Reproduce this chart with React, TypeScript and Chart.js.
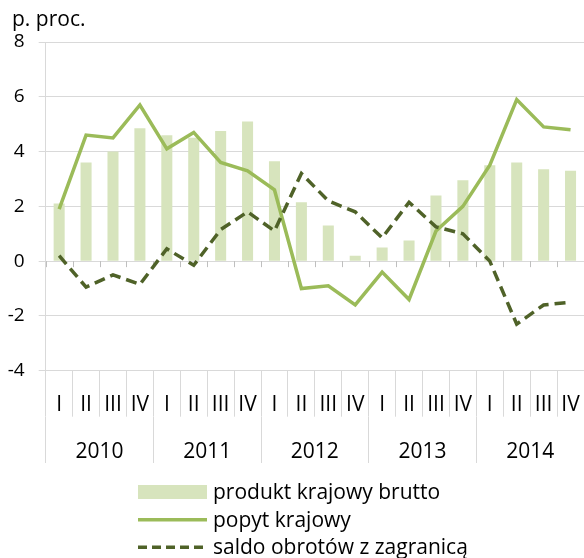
import React, { useEffect, useRef } from 'react';
import { Chart, registerables } from 'chart.js';

Chart.register(...registerables);

// ---- data ----
const quarters = ['I', 'II', 'III', 'IV', 'I', 'II', 'III', 'IV', 'I', 'II', 'III', 'IV', 'I', 'II', 'III', 'IV', 'I', 'II', 'III', 'IV'];
const years = ['2010', '2011', '2012', '2013', '2014'];
const gdp = [2.1, 3.6, 4.0, 4.85, 4.6, 4.5, 4.75, 5.1, 3.65, 2.15, 1.3, 0.2, 0.5, 0.75, 2.4, 2.95, 3.5, 3.6, 3.35, 3.3];
const domesticDemand = [1.9, 4.6, 4.5, 5.7, 4.1, 4.7, 3.6, 3.3, 2.6, -1.0, -0.9, -1.6, -0.4, -1.4, 1.1, 2.0, 3.5, 5.9, 4.9, 4.8];
const netExports = [0.2, -0.95, -0.5, -0.85, 0.45, -0.15, 1.15, 1.8, 1.1, 3.2, 2.2, 1.8, 0.85, 2.15, 1.25, 1.0, 0.0, -2.3, -1.6, -1.5];
const seriesLabels = ['produkt krajowy brutto', 'popyt krajowy', 'saldo obrotów z zagranicą'];
const unitLabel = 'p. proc.';
const yMin = -4;
const yMax = 8;
const yStep = 2;

const FONT = '"Open Sans", sans-serif';
const GRID = '#d9d9d9';
const BAR_COLOR = '#d7e4bd';
const DEMAND_COLOR = '#9bbb59';
const NET_COLOR = '#4f6228';

const decorPlugin = {
  id: 'decor',
  beforeDatasetsDraw(chart: any) {
    const { ctx, scales } = chart;
    const x = scales.x;
    const y = scales.y;
    const y0 = y.getPixelForValue(0);
    const half = (x.getPixelForValue(1) - x.getPixelForValue(0)) / 2;
    ctx.save();
    ctx.strokeStyle = '#bfbfbf';
    ctx.lineWidth = 1;
    ctx.beginPath();
    for (let i = 0; i <= quarters.length; i++) {
      const px = Math.round(x.getPixelForValue(0) - half + 2 * half * i) + 0.5;
      ctx.moveTo(px, y0);
      ctx.lineTo(px, y0 + 6);
    }
    ctx.stroke();
    ctx.restore();
  },
  afterDraw(chart: any) {
    const { ctx } = chart;
    ctx.save();
    ctx.fillStyle = '#000';
    ctx.font = `21px ${FONT}`;
    ctx.textAlign = 'left';
    ctx.textBaseline = 'alphabetic';
    ctx.fillText(unitLabel, 12, 25.5);

    // legend
    const x0 = 138;
    const x1 = 207;
    const textX = 213;
    const rows = [492, 519.7, 547.3];
    chart.data.datasets.forEach((ds: any, i: number) => {
      const cy = rows[i];
      ctx.save();
      if (ds.type === 'bar' || !ds.type) {
        ctx.fillStyle = ds.backgroundColor;
        ctx.fillRect(x0, cy - 7, x1 - x0, 14);
      } else {
        ctx.strokeStyle = ds.borderColor;
        ctx.lineWidth = 3.5;
        ctx.lineCap = 'butt';
        if (ds.borderDash) ctx.setLineDash([9, 5]);
        ctx.beginPath();
        ctx.moveTo(x0, cy);
        ctx.lineTo(x1, cy);
        ctx.stroke();
      }
      ctx.restore();
      ctx.fillStyle = '#000';
      ctx.font = `21px ${FONT}`;
      ctx.textBaseline = 'middle';
      ctx.fillText(ds.label, textX, cy + 1);
    });
    ctx.restore();
  },
};

export default function App() {
  const canvasRef = useRef<HTMLCanvasElement | null>(null);

  useEffect(() => {
    let chart: Chart | null = null;
    let cancelled = false;
    const build = () => {
      if (cancelled || !canvasRef.current) return;
      chart = new Chart(canvasRef.current, {
        type: 'bar',
        data: {
          labels: quarters,
          datasets: [
            {
              type: 'bar',
              label: seriesLabels[0],
              data: gdp,
              backgroundColor: BAR_COLOR,
              borderWidth: 0,
              barPercentage: 0.41,
              categoryPercentage: 1,
              order: 3,
              xAxisID: 'x',
              yAxisID: 'y',
            } as any,
            {
              type: 'line',
              label: seriesLabels[1],
              data: domesticDemand,
              borderColor: DEMAND_COLOR,
              backgroundColor: DEMAND_COLOR,
              borderWidth: 3.5,
              pointRadius: 0,
              tension: 0,
              fill: false,
              order: 2,
              xAxisID: 'x',
              yAxisID: 'y',
            } as any,
            {
              type: 'line',
              label: seriesLabels[2],
              data: netExports,
              borderColor: NET_COLOR,
              backgroundColor: NET_COLOR,
              borderWidth: 3.5,
              borderDash: [11, 6],
              pointRadius: 0,
              tension: 0,
              fill: false,
              order: 1,
              xAxisID: 'x',
              yAxisID: 'y',
            } as any,
          ],
        },
        options: {
          responsive: false,
          animation: false,
          layout: { padding: { top: 42, bottom: 95, left: 0, right: -2 } },
          plugins: {
            legend: { display: false },
            tooltip: { enabled: false },
            title: { display: false },
          },
          scales: {
            x: {
              type: 'category',
              offset: true,
              afterFit: (s: any) => { s.height = 46; },
              grid: { offset: true, drawOnChartArea: false, tickLength: 46, color: GRID },
              border: { display: true, color: GRID },
              ticks: {
                autoSkip: false,
                maxRotation: 0,
                padding: -24,
                color: '#000',
                font: { family: FONT, size: 21 },
              },
            },
            x2: {
              type: 'category',
              position: 'bottom',
              labels: years,
              offset: true,
              afterFit: (s: any) => { s.height = 46.3; },
              grid: { offset: true, drawOnChartArea: false, tickLength: 46.3, color: GRID },
              border: { display: false },
              ticks: {
                autoSkip: false,
                maxRotation: 0,
                padding: -24,
                color: '#000',
                font: { family: FONT, size: 21 },
              },
            },
            y: {
              min: yMin,
              max: yMax,
              afterFit: (s: any) => { s.width = 45.7; },
              grid: { color: GRID, tickLength: 7 },
              border: { color: GRID },
              ticks: {
                stepSize: yStep,
                padding: 14,
                color: '#000',
                font: { family: FONT, size: 19 },
              },
            },
          },
        } as any,
        plugins: [decorPlugin],
      });
    };
    const fontsApi = (document as any).fonts;
    if (fontsApi && fontsApi.load) {
      Promise.all([fontsApi.load(`21px ${FONT}`), fontsApi.load(`19px ${FONT}`)])
        .catch(() => undefined)
        .then(build);
    } else {
      build();
    }
    return () => {
      cancelled = true;
      if (chart) chart.destroy();
    };
  }, []);

  return (
    <div style={{ position: 'absolute', left: 0, top: 0, width: 584, height: 558, overflow: 'hidden', background: '#fff' }}>
      <canvas ref={canvasRef} width={584} height={558} style={{ display: 'block', width: 584, height: 558 }} />
    </div>
  );
}
